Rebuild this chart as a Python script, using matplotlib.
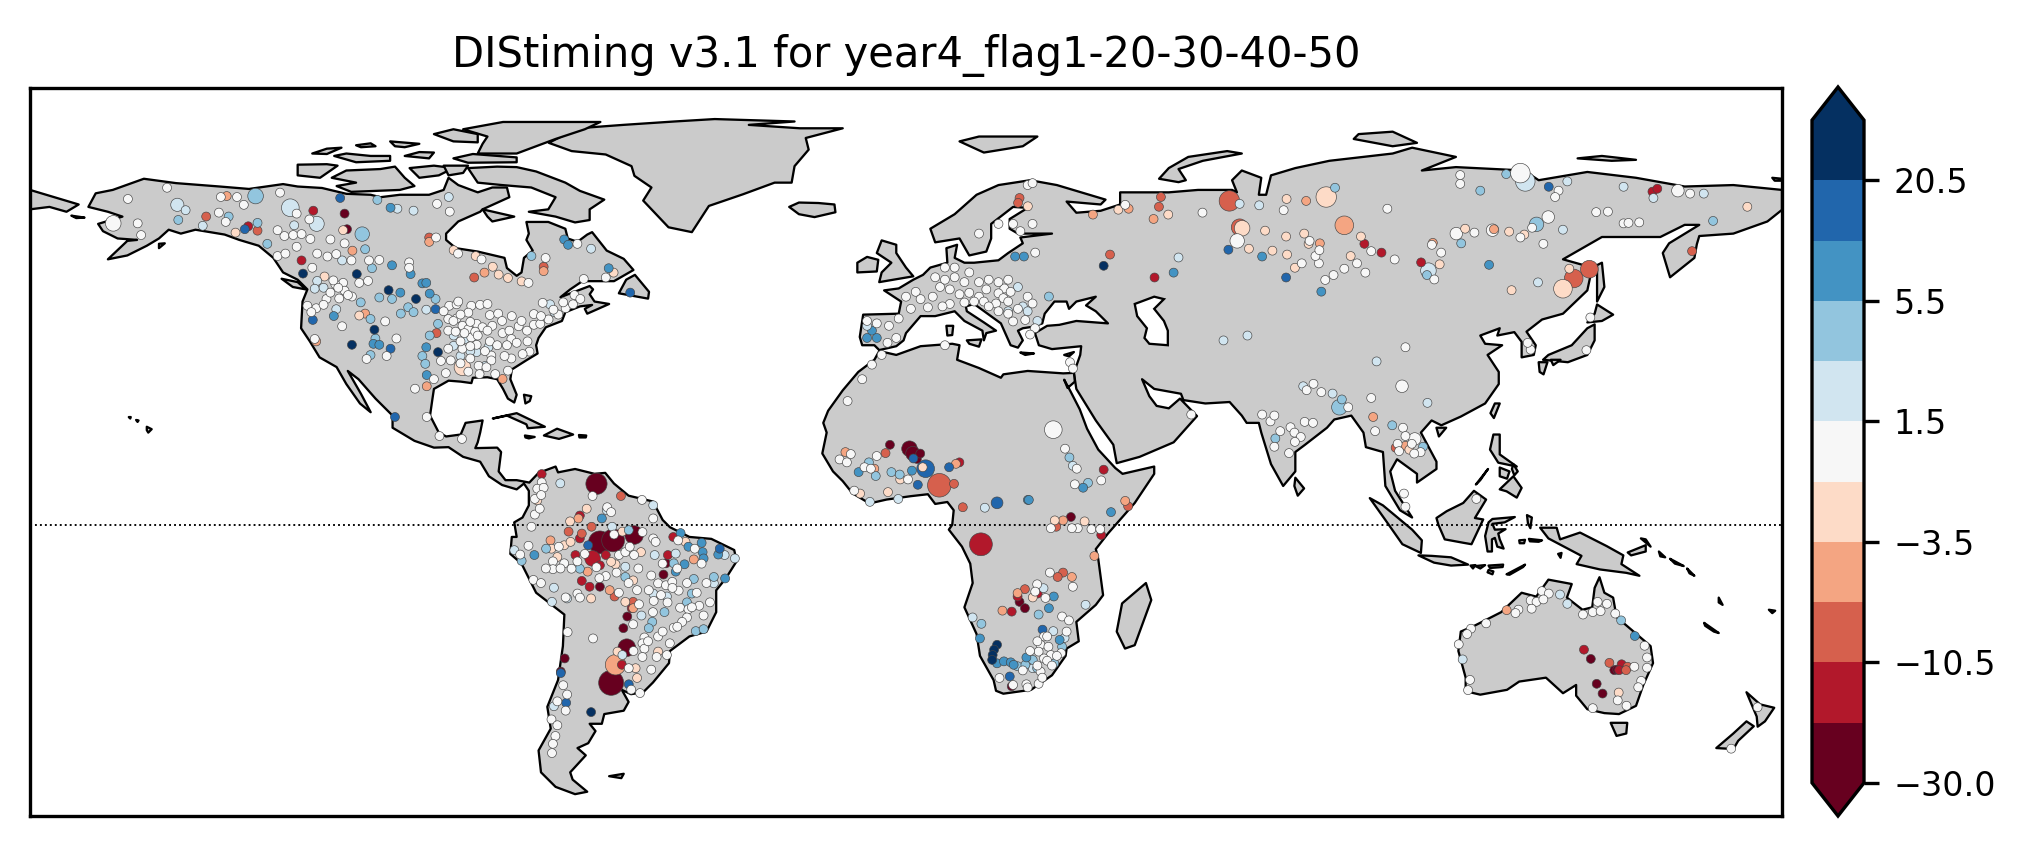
import matplotlib
matplotlib.use("Agg")
import matplotlib.pyplot as plt
from matplotlib.colors import ListedColormap, BoundaryNorm
from matplotlib.cm import ScalarMappable
from matplotlib.patches import Polygon

TITLE = "DIStiming v3.1 for year4_flag1-20-30-40-50"
levels = [-30, -15, -10.5, -6.5, -3.5, -0.5, 1.5, 3.5, 5.5, 10.5, 20.5, 30]
tick_levels = [-30, -10.5, -3.5, 1.5, 5.5, 20.5]
colors = ["#67001f", "#b2182b", "#d6604d", "#f4a582", "#fddbc7", "#f7f7f7",
          "#d1e5f0", "#92c5de", "#4393c3", "#2166ac", "#053061"]
class_vals = [-20, -13, -8, -5, -2, 0.5, 2.5, 4.5, 8, 15, 25]

# ---- coastlines (lon, lat) ----
americas = [(-168,65.5),(-166.5,68.3),(-163,69),(-156.6,71.3),(-150,70.4),(-141,69.7),(-135,69.2),(-128,70.2),(-125,69.7),(-120,69.4),(-115,68.2),(-110,68),(-108,67.5),(-104,68),(-98,68),(-95,69),(-94,71.5),(-92,70),(-88,68.5),(-85,69.5),(-82,69.5),(-81.5,67.5),(-87,65),(-87.5,64.5),(-92,62.5),(-94.5,60),(-94.5,58.7),(-92.5,57),(-88,56.3),(-82.5,55),(-82,52.9),(-80,51.3),(-79,52),(-78.5,55),(-76.7,56.5),(-78,58.7),(-77.5,60),(-78,62.4),(-73.5,62.4),(-70,61),(-69.5,59),(-67.5,58.3),(-65.5,59.8),(-64.5,60.3),(-61.5,56.5),(-58,54.8),(-56,52.5),(-60,50.2),(-66.5,50.2),(-69,48.5),(-71,46.9),(-65,49.2),(-64.3,48.5),(-65,47.5),(-64,46),(-61,45.5),(-65.5,43.5),(-66,44.5),(-64.5,45.3),(-67,45),(-70,43.8),(-70.7,42),(-74,40.7),(-75.5,38.5),(-76,37),(-75.7,35.3),(-78,33.9),(-81,32),(-81.3,30),(-80,26.8),(-80.5,25.2),(-81.8,26),(-82.8,28),(-84,30),(-86,30.4),(-89,30.3),(-89.3,29.2),(-91.5,29.5),(-94,29.7),(-97,28),(-97.3,26),(-97.8,22.5),(-96,19),(-94.5,18.2),(-91.5,18.6),(-90.5,21),(-87,21.5),(-87.5,19),(-88,17),(-88.5,15.8),(-84,15.9),(-83.2,15),(-83.7,11),(-82.3,9.2),(-80,9.2),(-77.4,8.7),(-75.5,10.7),(-72,12),(-71.5,10.8),(-68,11.5),(-64,10.5),(-61.8,10.7),(-60,8.5),(-57,6),(-52,4.8),(-50,1),(-48.5,-0.5),(-44.5,-2.5),(-40,-2.9),(-35.3,-5.2),(-34.8,-7.5),(-37,-11),(-39,-13.5),(-39,-18),(-41,-22),(-44.5,-23),(-48.5,-26),(-48.7,-28.5),(-52,-32.5),(-54,-34.5),(-56.5,-34.9),(-58.4,-34),(-57,-36.5),(-58,-38.3),(-62,-39),(-62.5,-41),(-65,-41),(-63.8,-42.5),(-65.3,-45),(-67.5,-46),(-65.8,-47.5),(-69,-51),(-68.5,-52.5),(-65.5,-55),(-68,-55.5),(-72,-54),(-75,-51),(-75.5,-46.5),(-73,-42),(-73.7,-37.5),(-71.5,-32),(-70.5,-25),(-70.2,-18.5),(-76,-14),(-79,-8),(-81.3,-6),(-81,-2.5),(-80,-2.5),(-80.5,0.5),(-78.8,1.5),(-77.5,4),(-77.5,7),(-78.5,8.5),(-80,7.3),(-83,8.2),(-85.7,10),(-87.5,13),(-91,14),(-94,16),(-97,15.9),(-101,17.3),(-105.5,20),(-105.5,22.5),(-109,26),(-112.5,30),(-114.7,31.7),(-112,27),(-110,23.2),(-112.2,25),(-115,29),(-117,32.5),(-120.5,34.5),(-122.5,37.8),(-124.3,40.5),(-124,46),(-123,48.5),(-125,50.5),(-128,52),(-130,55),(-133,57.5),(-137,58.7),(-140,59.8),(-146,60.8),(-149,60),(-151.5,60.8),(-153.5,59),(-156,57.5),(-160,55.5),(-164,54.7),(-160,58.5),(-158,58.7),(-162,59),(-165,60.5),(-166,62),(-161,63.5),(-164,64.5)]
greenland = [(-73.4,78.7),(-67.5,81.7),(-58.1,82.4),(-47.6,83.1),(-39.3,83.6),(-22.9,83.1),(-32.3,82.4),(-21.8,81.7),(-13,81.7),(-20.6,79.7),(-20,77.3),(-22.9,73.9),(-23.5,70.5),(-27,70.5),(-33.5,68.1),(-40.5,65.7),(-44,60.3),(-48.8,61.3),(-54,66.8),(-52.3,69.5),(-55.8,71.9),(-56.4,73.9),(-61.7,76.3),(-68.7,77)]
eurasia = [(-9,37),(-9.5,38.7),(-8.8,43.3),(-1.5,43.5),(-1,46),(-4.5,48.3),(-1.5,48.7),(1.5,50.5),(3.5,51.5),(5,53),(8.5,54),(8.3,57),(10.5,57.7),(10,55),(12,54),(14,54),(19,54.5),(21,56),(24,58),(23.5,59.2),(30,60),(23,60),(21.3,61),(21.3,63),(25,65.3),(22,65.5),(17.5,62),(17.5,59),(16.5,56.3),(13,55.5),(11,59),(6,58.2),(5,61),(10,64),(14.5,68),(19,70),(25.5,71),(31,70),(41,67),(40,66),(33,66.6),(35,64.3),(40,64.7),(44,66),(44,68.5),(54,68.5),(60,69),(67,69),(68,68.5),(67,71),(69,73),(73,71.5),(72.5,68),(74,68),(75,72),(80,73.5),(87,75),(100,76.5),(104,77.7),(113,75.8),(106,73),(113,73.7),(127,73),(130,71),(140,72.7),(150,71.5),(160,69.7),(170,70),(180,69),(180,64.9),(177,62.5),(170,60),(163,59.5),(162.5,57.8),(162,55),(157,51),(155.5,56),(156.8,58),(163,61.8),(160,61.8),(155,59.3),(143,59.3),(135,54.7),(141,53),(140,48.3),(135,43.5),(130.7,42.3),(127.5,39.8),(129.4,37),(129,35),(126.5,34.5),(126.5,37.7),(125,39.7),(121.5,39),(122,40.5),(118,39),(119,37.3),(122.5,37),(119.5,35),(121.8,31.5),(121.8,29),(119,25),(114,22.3),(110,20.5),(108,21.5),(105.8,19),(109,13),(109,11.5),(105,8.7),(105,10.5),(100.9,13.5),(99.5,11),(100.5,7),(104,1.5),(101.5,3),(98.5,8),(98,15),(94.5,16),(94,19),(91.5,22.5),(88,21.7),(86.5,20),(82,16.5),(80,15),(80,11),(77.5,8),(75,12.5),(73,19),(72.5,21),(70,21),(69,22.5),(66.5,25.3),(61.5,25),(57,25.7),(56.5,27),(51,28),(48.5,30),(50,26.5),(51.5,24.5),(54,24),(56.3,26),(59.8,22.4),(55,17),(48,14),(43.3,12.7),(42.6,16.5),(39,21.5),(35,28),(34.5,31.3),(35.8,35),(36,36.8),(30,36.2),(27.3,37),(26.5,39.5),(29,41),(31.5,41.2),(35,42),(41.5,41.5),(39,44),(37,45.2),(39,47),(35,46),(33.5,44.5),(33,46),(30.5,46),(28.5,43.5),(28,41.5),(26,40.8),(24,40.5),(23,40),(24,38),(23,36.5),(21.5,37),(19.5,41.5),(14,45.5),(12.3,45),(12.5,44),(16,41.7),(18.5,40),(16.5,39.5),(16,38),(15.7,40),(12,42),(10,44),(6,43),(3,43),(0,39.5),(-0.5,38),(-2,36.8),(-5.5,36),(-6.5,37)]
africa = [(34.5,31.3),(32.3,31.2),(25,31.7),(20,31),(19.5,30.3),(15,32.3),(10.5,34),(11,37),(9.5,37.3),(3,36.8),(-2,35),(-5.5,35.8),(-6.5,34),(-9.8,31.5),(-13,27.7),(-16,23.5),(-17,21),(-16.3,19),(-17.2,14.7),(-15,11),(-13,9),(-11,6.5),(-7.5,4.4),(-4,5.2),(1,5.9),(4.5,6.3),(6,4.3),(8.5,4.7),(9.8,3),(9.5,0),(8.8,-1),(11.5,-4.5),(13.2,-8),(13.7,-12),(12,-17),(14.5,-22.5),(15.2,-27),(18,-32),(18.5,-34.2),(20,-34.8),(25.7,-34),(30,-31),(32.8,-27),(33,-25.5),(35.5,-24),(35,-20),(39,-16.5),(40.5,-14.5),(39.5,-7),(39,-5),(41.5,-1.8),(47,4.5),(51,10.5),(51,12),(44.5,10.5),(43,11.7),(39.5,15.5),(37.2,19.8),(35.7,23.8),(33.8,27.5),(32.5,29.9),(33.2,28.2),(34.7,29.5)]
australia = [(114,-22),(113.5,-26),(115,-31.5),(115,-34.3),(118,-35),(123.5,-34),(126,-32.3),(131.5,-31.5),(135,-34.7),(137.7,-33),(137.7,-35.2),(140,-38),(143.5,-38.8),(146.5,-39),(150,-37.3),(151.5,-33),(153.5,-28.5),(153,-25),(149.5,-22),(146,-19),(145.3,-15),(143.5,-14),(142.5,-10.8),(141.5,-13),(141,-17),(139,-17.5),(135.8,-15),(136.8,-12.2),(132,-11.3),(129.5,-14.8),(126.5,-14),(122.3,-18),(117,-20.7)]
islands = [
 [(-180,69),(-175,67.5),(-170,66),(-172.5,64.5),(-176,65.5),(-180,65)],
 # Canadian Arctic
 [(-90,73.5),(-84,73.8),(-80,73.7),(-76,72.8),(-70,70.5),(-67,68.8),(-62,67),(-65,65),(-65,62.8),(-68,62.3),(-72,63.5),(-77.5,64.5),(-73.5,65),(-72,67.5),(-77,69.5),(-83,70),(-88,70.5)],
 [(-118,71.5),(-115,73),(-108,73.3),(-105,73.8),(-103,71.5),(-101,69.8),(-104,69),(-114,68.6),(-117,69.8),(-113,70.5)],
 [(-125,74.2),(-119,74.3),(-116.8,74),(-120.4,71.5),(-125,72)],
 [(-91,81.5),(-82.8,83),(-62.8,83),(-66,81.5),(-72,79.5),(-76,78),(-80,76.5),(-88,76.5),(-87,78.5),(-86,80)],
 [(-97,80.5),(-93,81.5),(-88,80.5),(-88,78.8),(-93,79)],
 [(-93,75.5),(-90,74.6),(-80,74.7),(-80,75.7),(-89,76.4)],
 [(-117.5,76),(-115,76.5),(-110,76),(-106,76),(-106,75),(-113,74.7)],
 [(-122,76.5),(-119,77.5),(-116,77.7),(-119,76.4)],
 [(-113,78.2),(-110,78.6),(-109,78),(-112,77.8)],
 [(-106,79),(-100,78.5),(-103,77.8),(-105,78)],
 [(-103,76),(-98,75.5),(-97,76.7),(-100,76.8)],
 [(-102,73.5),(-97,74),(-93,73.5),(-96,72),(-100,71.5)],
 [(-95,74),(-90,74),(-91,72.5),(-94,72)],
 [(-87,65),(-80.5,63.5),(-85,62.5),(-86,63.5)],
 [(-59,47.7),(-53,46.6),(-52.8,48),(-55.7,51.5),(-57.5,50.5)],
 [(-128.3,50.7),(-125,50),(-123.3,48.5),(-126,49)],
 [(-84.9,21.9),(-80,23),(-74.2,20.2),(-77.7,19.9),(-78,20.7),(-82,22.5)],
 [(-74.4,18.4),(-71.7,19.8),(-68.4,18.6),(-71.3,17.7)],
 [(-78.3,18.4),(-76.3,18.1),(-77.5,17.8),(-78.2,18)],
 [(-67.2,18.5),(-65.7,18.4),(-65.8,18),(-67.1,18)],
 [(-78.5,26.8),(-77,26.5),(-77.3,25.5),(-78.2,25)],
 [(-156,20.2),(-155,19.7),(-155.7,19),(-156,19.5)],
 [(-158.2,21.6),(-157.7,21.5),(-157.9,21.2)],
 [(-159.7,22.2),(-159.3,22.2),(-159.4,21.9)],
 [(-153.5,57.9),(-152.3,58),(-153.5,57)],
 [(-171.5,63.7),(-168.8,63.3),(-170.5,63.2)],
 [(-24,65.5),(-22,64),(-18.8,63.4),(-14.5,64.4),(-14.7,66),(-18,66.3),(-22,66.4)],
 [(11,79),(16,76.7),(24,78),(27,80),(15,80)],
 [(52,71.3),(56,70.6),(57.5,71),(56,73.3),(61,75),(69,76.5),(66,77),(58,75.8),(54,73.5)],
 [(92,79.5),(100,78),(105,78.7),(100,81),(93,80.5)],
 [(138,75.5),(145,75),(150,75.2),(143,76)],
 [(178,71.5),(180,71.3),(180,70.9),(178.5,70.9)],
 [(49.3,-12),(50.4,-15.5),(47,-24.8),(45,-25.5),(43.3,-22),(44.4,-16.2)],
 [(-5.5,50),(1.5,51.2),(0,53),(-2,56),(-2,57.7),(-5,58.6),(-6,56),(-3,54),(-5,52)],
 [(-10,52),(-6,52.2),(-5.7,54.6),(-8,55.2),(-10,54)],
 [(12.5,38),(15.5,38.2),(15,36.7),(13,37.3)],
 [(8.3,41),(9.7,41),(9.5,39.1),(8.5,39)],
 [(23.5,35.5),(26.3,35.3),(24.5,35)],
 [(32.5,35),(34.5,35.6),(33.5,34.7)],
 [(80,9.7),(81.8,7.5),(80.5,6),(79.8,8)],
 [(130.9,34),(136,33.5),(140,35),(141.5,38),(141.5,41.3),(140,40.5),(136.8,37),(132,35)],
 [(130,33.5),(131.8,33.5),(131,31),(130.2,31.5)],
 [(132.5,34),(134.5,34),(133,32.9)],
 [(140,41.7),(143,42),(145.3,43.3),(142,45.4),(141.5,43.5)],
 [(142,46),(143.5,49),(143,54),(142,53.5),(142,48)],
 [(121,25),(122,25),(120.8,22),(120.1,23)],
 [(109,20),(111,20),(109.5,18.2)],
 # Philippines and Indonesia
 [(120.7,18.6),(122,18.6),(122,16),(122,14.5),(125.5,12),(121.7,12.8),(120,15.5)],
 [(122,7.3),(124.8,10),(126.5,7.6),(125.5,5.6),(123.4,6.9)],
 [(122,11.8),(124,11),(123.5,9.5),(122,10)],
 [(124.8,12.5),(125.7,11),(125,10.2),(124.5,11.5)],
 [(117.1,8.3),(119.6,11.5),(119.3,11.1),(118,9.2)],
 [(95.3,5.5),(98,4),(104,-1),(106,-3.2),(105.8,-5.8),(102,-4),(98.5,1)],
 [(105.3,-6.3),(108,-6.4),(112,-6.7),(115.5,-8.2),(112,-8.4),(108.5,-7.8)],
 [(109,1.4),(111.1,2.8),(114.5,4.5),(116.7,7),(119.2,5.2),(116.9,1.4),(118.6,1.1),(116.2,-4),(114.5,-3.7),(110.7,-3),(109.4,0)],
 [(125.1,1.6),(120.5,1.2),(119.7,0.5),(119,-2.3),(119.5,-5.5),(120.4,-5.5),(120.4,-3),(121,-2.7),(121.5,-4.5),(122.8,-4.9),(122,-3),(121.7,-1.8),(123.2,-0.9),(121,-1),(120.5,0.2),(123,0.5)],
 [(127.6,2),(128.6,1.5),(128.3,-0.7),(127.8,0.3)],
 [(126,-3.2),(127.2,-3.1),(127,-3.8),(126.1,-3.8)],
 [(128,-2.9),(130.7,-3.2),(130,-3.5),(128.2,-3.4)],
 [(130.3,-0.6),(133.7,-0.6),(134.4,-3),(138.5,-1.6),(144,-4.4),(147.4,-6.3),(147,-8.1),(150.7,-10.5),(148,-9.9),(142.6,-9.2),(137.8,-8.1),(138.8,-6.4),(133.7,-3.7),(132,-2.8)],
 [(148.3,-5.7),(152,-4.2),(152,-5.5),(149,-6.3)],
 [(152,-3),(153,-4.5),(151,-2.8)],
 [(154.7,-5.5),(156,-6.7),(155,-6.5)],
 [(157,-7),(159.8,-8.5),(158,-8)],
 [(160.5,-9),(162,-10.5),(161,-10)],
 [(134,-6),(134.7,-5.8),(134.5,-6.8)],
 [(116,-8.4),(117,-8.3),(116.5,-9)],
 [(117,-8.5),(119,-8.3),(118,-9)],
 [(119.7,-9.3),(120.7,-9.6),(120.5,-10.2),(119.5,-9.8)],
 [(119.7,-8.4),(122.7,-8.2),(122.6,-8.7),(120,-8.9)],
 [(123.4,-10.2),(127.2,-8.2),(126.8,-8.7),(124,-10.3)],
 [(144.8,-40.8),(148.2,-40.8),(148,-43),(146,-43.5)],
 [(172.7,-34.5),(175.5,-37),(178.4,-37.7),(176.5,-40.5),(175,-41.6),(174.8,-39.5)],
 [(172.7,-40.5),(174.2,-41.5),(171,-44.5),(170,-46.2),(166.5,-46),(170,-43)],
 [(164,-20.2),(167,-22.3),(166,-22),(164.2,-20.8)],
 [(167,-15),(167.8,-16.5),(167,-16)],
 [(177.3,-17.5),(178.6,-17.7),(178,-18.2)],
 [(-61,-51.8),(-58,-51.3),(-58.5,-52.2)],
]
caspian = [(47,45.5),(51,47),(53,46.5),(51,44.5),(53,42),(53.8,40),(53.8,37),(50,37.3),(49,38.5),(49.5,40.5),(47.5,43)]

# ---- stations, by colour class (lon, lat) ----
pts_dark = [(-115.7,64.2),(-115.2,61),(-70.7,-27),(-71.5,-29.7),(-58.7,-20.8),(-57.9,-18.4),(-50.5,-9.8),(-50,-7.5),(-63.5,-12.3),(-4.2,16.8),(1.3,13.9),(2,15),(32.8,2),(22.3,-15.4),(23.4,-16.7),(20.7,-32.7),(139.1,-27.1),(143.9,-29.4),(140.3,-32.2),(141.5,-34.2),(144.5,-29.3)]
pts_red = [(-122.1,64.8),(-124.5,54.6),(-135.4,61.6),(-67.6,2.3),(-67.6,-2.4),(-62.3,-5.8),(-68.5,-5.8),(-75.4,10.8),(-59,-28.3),(-48.5,-2.1),(-57,-16.7),(-49.6,-5.8),(-63.5,-7.9),(-67.2,-11.1),(-65.6,-12.3),(151.7,68.7),(152.7,69.3),(92.8,58),(96.3,56.2),(104.4,54.2),(49.9,51.1),(39.5,11.7),(10,13.2),(39,-1.7),(21.9,-14.3),(26,-13.7),(20.7,-17.4),(137.7,-25.2),(145.4,-28.2),(144.9,-29.4)]
pts_salmon = [(-144,63.6),(-133.5,60.7),(-96.9,39.7),(-89.2,51.1),(-75,53.3),(-98.4,59.3),(-59.2,6.3),(-69.9,-1),(-65.2,0),(-67.2,-1.4),(-60.5,-14.3),(-56.7,-15.4),(51.2,67.6),(50.8,65.6),(40.8,55.8),(22.3,67.4),(22,66.4),(159.8,56.5),(8.9,8.8),(10.7,4),(29.8,0),(44.5,4.2),(-5.1,15.1),(31.2,-9.4),(30.1,-10.3),(23.4,-12.8),(142.9,-27.9),(146.6,-28.7),(146.3,-29.4),(99.2,16.2)]
pts_lsalmon = [(-139.8,67.8),(-114.1,56.6),(-87.1,52.1),(-98.4,58.4),(-111.5,43.7),(-121.5,38),(-83.4,30.3),(-98.9,28.8),(-75,52.4),(-73.6,-2.8),(-67.9,1.7),(-61.5,-13),(-66,-9.2),(-56.7,-16.7),(-44.3,-6.7),(80.9,66.8),(37.3,64),(44.6,65.2),(49.7,63.1),(83.7,58.1),(119.3,61),(94.6,22.5),(101.2,16.6),(31.2,1.3),(43.9,5.3),(37.6,-6),(-13.3,15.3),(-7.4,11.9),(9.3,12.9),(33,-10.3),(21.9,-13.6),(18.8,-17.2),(121.9,-17.1),(106.8,58.2)]
pts_peach = [(-138,60.3),(-116,60.8),(-119.8,51.3),(-93.4,56.7),(-88.9,55.5),(-85.4,53.3),(-84.2,51.7),(-82.3,51),(-79.5,50.3),(-60.7,52.1),(-112.7,43.3),(-66.2,3.7),(-69.6,1.1),(-73.4,-4.5),(-70.8,-3.8),(-72.2,-6.2),(-65.3,-14.7),(-59.9,-25.6),(-58.3,-15.4),(-55.1,-5.2),(-60.3,-7.7),(-61.2,-7.2),(-56.7,-11),(-58.9,-1),(-51.6,-25.6),(-56.2,-29),(-55.9,-31),(-46,-3.1),(-69.5,-3.1),(-76.3,5.4),(76.9,67.2),(42.5,65),(52.7,64),(72.5,60.7),(76.8,59.5),(80.5,60.1),(81.4,58),(69.2,57),(74,56.6),(77,55.8),(78.6,53.1),(90,55.5),(92.1,59.5),(113.4,61.1),(122.4,60.5),(125.5,59.9),(108.2,53.8),(122.9,48.5),(171.1,65.6),(134.7,52.9),(24,65.7),(2.5,12.2),(-2.1,9.7),(-10.3,6.8),(-4.6,7.1),(29.5,1.3),(35.6,1.1),(25,-14.5),(144.8,-34),(102,15.8)]
pts_white = [
 # Alaska, Canada
 (-152,69.5),(-160,67.2),(-158,62.2),(-157.3,59.8),(-141,67.6),(-137.7,67.6),(-136.3,66),(-141.4,64.4),(-140,62.5),(-128.9,68.5),(-125.5,64.2),(-122.9,63),(-122.7,59),(-125.5,57.4),(-118.6,58.9),(-115.7,58.1),(-121.3,56),(-119.2,55.4),(-117.4,55.9),(-114.3,54.6),(-129.4,55.5),(-127.8,56),(-128,59.6),(-129.4,60.8),(-126.2,59.8),(-124.5,60),(-122.3,53.1),(-116,50),(-117.6,49.7),(-114.2,47.2),(-116.8,46.8),(-119.4,46.7),(-121.5,44.8),(-123.3,45.3),(-115.7,48.4),(-118.6,48),(-117,49),(-112.7,50),(-110.9,50.4),(-110.7,54.6),(-108.6,54.7),(-102.5,54.2),(-102.5,53.1),(-97,59.3),(-96.8,66.2),(-94.2,64.6),(-92.5,56),(-87.7,54.8),(-78.1,50),(-74.6,55.1),(-68.1,58),(-66.8,50.8),(-62.3,51.1),(-121.8,38.5),(-122.5,44),(-120,45.5),(-118,50.5),(-115,47.5),
 # United States
 (-94.3,45.3),(-92.8,45.6),(-89.8,45.3),(-88,45.5),(-94.5,42.6),(-92.8,42.7),(-90.4,43.9),(-91.6,41.2),(-88.7,41.6),(-90.4,40.5),(-87.5,40.9),(-86,43.4),(-84.3,43.7),(-83.4,39.7),(-82,40.2),(-80.1,41.1),(-81.6,38.5),(-78.4,40.2),(-77,41.4),(-75.7,41.6),(-78.3,38),(-77,43.6),(-75.2,45.9),(-70.5,44.8),(-69,45.6),(-68.7,47.5),(-67.5,46.7),(-77.9,35.9),(-79.3,35.4),(-81.6,34.5),(-82.3,32),(-85.7,35.1),(-85.7,34.1),(-88.3,33),(-86.7,32.7),(-90.4,31.8),(-88.1,31.3),(-84.9,31.3),(-94.5,36.5),(-91.6,36.5),(-94,34.1),(-96,34),(-89.8,38.8),(-88.7,37.3),(-91.2,39.7),(-94.5,40.2),(-101.3,28.3),(-98.9,22.5),(-96.3,18.6),(-91.7,18),(-116.2,41.1),(-111.2,34.4),(-107.4,42.1),(-105.1,38.6),(-107.1,35),(-92,38),(-90,37),(-93,40),(-89,40),(-86,38),(-87,36),(-83,35),(-74,42.5),(-72,43.5),(-71,46),(-73,44.5),(-90,34.5),(-92,33.5),(-95,31.5),(-90,42),(-92,43.5),
 # South America
 (-65,6.3),(-54.9,5.5),(-76.8,2.5),(-75.4,9.1),(-76.3,7.8),(-76.8,5.7),(-75.8,3.7),(-75,8),(-75.5,6.5),(-62,4),(-61.2,3),(-77.5,0),(-52.6,1.7),(-78.1,-3.9),(-79.8,-5.7),(-73.1,-7.1),(-73.1,-8.7),(-70.8,-7.5),(-69.3,-8.6),(-68.1,-7.1),(-71.9,-4.1),(-64.2,-8.3),(-62.3,-10.1),(-60.1,-9.4),(-59.6,-5.8),(-58.3,-5.2),(-56.5,-5.8),(-57.4,-4.1),(-54.8,-1.1),(-52.6,-2.4),(-52.1,-3.1),(-47.5,-2.8),(-44.1,-4.5),(-77.1,-10.9),(-68.1,-13.7),(-70.5,-14.5),(-55.9,-13),(-51.6,-11.6),(-50,-12),(-53.5,-13),(-52.5,-15.2),(-47.4,-13.1),(-48.7,-11.3),(-55.5,-15.9),(-47.1,-16.6),(-45.4,-16.9),(-43.2,-16.2),(-41,-15.5),(-42.3,-18.2),(-45.7,-18.6),(-48.4,-20.7),(-56.7,-20),(-70.1,-21.6),(-64.9,-22.9),(-51.6,-22.5),(-54.4,-22.7),(-54.8,-23.9),(-54.4,-25),(-49.2,-23.9),(-54.8,-26.7),(-51.9,-26.7),(-49.8,-26.3),(-57.6,-29),(-53,-29.3),(-71,-32.5),(-70.2,-34.4),(-72.2,-35.8),(-70.5,-37.7),(-73.4,-39.5),(-72.2,-40.7),(-72.6,-42.9),(-73.1,-44.5),(-73.3,-46.4),(-57.1,-33.4),(-55.3,-34.1),(-51,-14),(-53,-10),
 # Asia
 (112.4,72.1),(112.4,70.3),(132.5,68.9),(131.8,67.6),(159.4,68.3),(140.2,64.5),(142.6,64.6),(145.8,62.2),(146.8,62.3),(149,62.4),(127.1,61.3),(124.7,59.3),(129.4,58),(115.3,60.3),(106.6,57.8),(108.5,56.2),(107.1,50.7),(97.5,65.2),(99,54.8),(94.2,56.5),(91.3,54),(93,52.1),(88.7,52.9),(86.5,51.6),(84.8,50.6),(83.5,54),(80,54),(82.8,55.5),(83.6,56.7),(81.6,58.6),(76.3,64.9),(59.7,64.4),(43.9,66),(25.5,56.2),(101.2,36.8),(94.2,26.4),(95,19.6),(89.5,24.5),(57.4,23),(126.8,36.3),(126.2,37.7),(138.2,36.2),(139,42.9),(71.9,23),(73.6,21.6),(74.4,22.8),(77.7,20.4),(75.6,19.6),(78.5,19.3),(79.8,18.4),(80.6,21.5),(82.3,21.3),(74.4,16.4),(77.4,15.1),(78.6,17.4),(100.7,20.3),(101.2,18.6),(99.6,17),(99.9,15.5),(104.3,15.3),(100.9,6.8),(101.2,4.1),(115.7,5.7),(82.4,29.3),(84,27.6),(81,28),(102.5,17),(103,15),
 # Africa
 (31.6,16),(34,11.9),(33.6,8.7),(39,9.5),(-12.2,14.9),(-14.5,13.8),(-13,13.2),(-6.9,14.5),(-9.4,12.2),(-8.1,11.9),(-0.5,9.7),(-11.5,7.4),(28.7,-0.3),(34.2,-0.3),(33,-0.3),(37,-0.5),(38.8,-0.5),(28.5,-9.4),(33.2,-12.3),(25.9,-11.8),(25.5,-13.3),(27.6,-14.6),(31,-18.4),(32.4,-19.2),(27.3,-22.5),(26.6,-24.2),(28.2,-24.6),(26.2,-25.6),(28.7,-26.3),(30.8,-25.9),(27.3,-27),(18.2,-31),(23.7,-32.3),(26.2,-32.2),(26.6,-29.7),
 # Australia, New Zealand
 (129.1,-13.2),(130.5,-13.7),(126.8,-15.1),(128,-15.4),(129.4,-14.9),(127,-16.8),(124.3,-17),(123.7,-17.7),(117.7,-19.8),(114.6,-20.9),(113.8,-22),(112.1,-24.1),(114.4,-31.4),(114,-33.5),(137.5,-18),(139.5,-17.5),(140.5,-15.4),(142.4,-15.8),(141.1,-17.3),(144.1,-17.8),(150.1,-24.4),(150.6,-26.8),(150.6,-28.9),(148,-28.7),(149.4,-31.6),(148.8,-32.9),(146.4,-36.7),(144.6,-35.6),(139.5,-37.2),(167.8,-45.5),(173.2,-37),
]
pts_pale = [(-148.2,64.9),(-144.7,61.7),(-126,61.8),(-101.6,64.8),(-104.9,65.2),(-94.4,67.6),(-65.3,57),(-121.3,50.4),(-121.8,48.8),(-120,49),(-116.2,54.6),(-117.4,44.6),(-99,44.5),(-93.4,39.2),(-93.4,37.1),(-86.3,36.8),(-88.7,35.8),(-86.9,33),(-73.7,45.6),(-72.8,44),(-91,38.5),(-90,36),(-92,35),(-71.6,8.9),(-73.3,-15.4),(-72.9,-12.5),(-70.2,-14.7),(-52.6,4.4),(-48,-5.5),(-38,-5.8),(-35.9,-6.5),(-40.2,-11.6),(-55,-18.2),(-52.3,-5.8),(-58.3,-8.2),(-52.6,-13.7),(-49.8,-14.3),(-61,0),(-62.1,3.4),(-58.9,-26.3),(-72.9,-36.8),(-81,-4.8),(67.3,66.2),(71.3,65.9),(134.3,70.8),(145.8,69.7),(151.9,67.4),(162.2,68.3),(133.4,60.9),(128.3,50.1),(54.8,55.2),(64,38.2),(68.9,39.2),(95.3,33.9),(105.7,25.4),(80.3,28.8),(86.3,27.3),(33.2,12.5),(12.7,-18.6),(15.2,3.9),(-8.3,5.1),(-2.5,5.7),(27.2,-12.6),(35.8,-16),(29.2,-21.4),(132.8,-13.9),(134.3,-15.8),(112.9,-27.2),(31.5,-22.8),(25,-29)]
pts_sky = [(-149.7,62.9),(-139.4,63.6),(-133.5,62.3),(-131.5,58),(-109,67),(-111.5,56.9),(-110.1,53),(-112.4,46),(-108.6,47),(-106,46.7),(-102.7,45),(-101.6,44),(-104.2,43.7),(-97.1,46.7),(-110.4,42.6),(-96.6,41.6),(-98.3,39.2),(-99.8,35),(-99.2,33.4),(-109.4,38.6),(-110.4,35.2),(-77.5,55.5),(-48.4,-7.5),(-40.2,-10.3),(-44.3,-10.7),(-44.7,-13.7),(-45.7,-15.5),(-50.3,-17.5),(-52.8,-19.5),(-53.5,-20.8),(-43.9,-21.4),(-42.3,-21),(-58.3,-10.3),(-57.6,-0.7),(-79.5,-7),(-74.5,-4.5),(-67.6,-8.6),(116.5,68.9),(121.8,72.3),(86.8,69.5),(112.6,58.1),(105.6,51.6),(164.1,62.7),(98.5,20.8),(104.8,16.4),(28.3,47.2),(88.2,26.1),(74.6,18.1),(32.5,14.2),(36.3,9),(-8.5,13.2),(-7.1,10.4),(-3.9,11.2),(-2.2,10.7),(14.5,-19.9),(26.2,-18),(21.9,-28.6),(23.5,-28.3),(25.9,-29),(31,-24.6),(25,-27.3),(29.4,-28),(145.3,-19.2)]
pts_mid = [(-106.3,65.4),(-106,53.6),(-102.2,51.8),(-99.8,49.9),(-99,50),(-104.3,48),(-98.3,47.8),(-117.9,43.2),(-109.8,37.5),(-108.6,37.3),(-99,36.8),(-98.9,31.1),(-70.8,58.9),(-70,57.8),(-61.7,53),(-63.1,1.7),(-76.9,-5.8),(-48,-9.2),(-46.2,-7.7),(-47,-1.3),(-42.7,-3.3),(-45.4,-4.1),(-42.5,-5.2),(-42.3,-6.5),(-39.3,-5.7),(-37.9,-10.6),(71.9,55.4),(53.8,52.1),(84,48.2),(118.3,53.7),(21.4,55.4),(23.2,55.4),(35.3,8),(24,5.5),(41,3),(0.3,11.5),(-10.6,11.2),(24.2,5.5),(28.3,-16.7),(29.3,-14.3),(14.2,-22.9),(17.7,-28),(19.1,-27.6),(20.5,-27.8),(21.1,-28.3),(23.7,-26.8),(30.5,-23.2),(148.1,-22.4)]
pts_blue = [(-116.6,67.4),(-136.1,61),(-122.2,42.4),(-97.1,44.6),(-106.3,36.5),(-57.3,48),(-105.4,22.5),(-65.9,-3.8),(-39,-4.5),(-57.6,-32.3),(-70.4,-36.1),(-71.5,-30),(65,56.8),(76.8,51.1),(130.5,69.7),(0.6,14),(7.9,12.2),(1.5,8.6),(27,-21.1),(20.3,-30.7)]
pts_navy = [(-124.2,51.9),(-113.2,51.8),(-106.7,48.5),(-101.1,46.7),(-109.6,40.4),(-114.2,37.3),(-96.6,35.8),(-65.3,-38),(17.7,-24.2),(17.1,-25.2),(16.8,-26.3),(16.7,-27.3),(39.5,53.5)]

# stations read directly on the lon/lat grid
grid_white = [(20.2,48.7),(21.5,48),(19,47.7),(20,46.7),(21,46),(18.5,45.6),(22,41.9),(25,47),(26,45.6),(24.5,42.2),(26.5,40.5),(25.5,39.2),(25,70),(26,70.4),(33.7,33.5),(34.3,32.2),(-8,42),(-6,41.5),(-3.5,41),(-1.5,42.5),(-2,38.5),(-3.8,37.5),(0,47),(2,48),(3,46.5),(1,44.5),(4.5,44.8),(5.5,47),(7,49),(8,50.5),(6,51),(10,51),(12,50),(9,48.5),(11,47.5),(13,47.8),(15,47),(16.5,48.5),(15,50),(17,50.5),(19,50),(21,50.5),(14,46),(12,45.8),(9,45.5),(7.5,45),(13,52),(10,53),(8,53),(16,46),(17,45),(19,44),(21,43.5),(23,44.5),(19,62),(15,60),(22,62),(26,62),(23.5,60.5),(8,37),(-5,35),(-7,33),(-9,30),(-12,25.5),
 (-50,-8),(-47,-9),(-45,-12),(-43,-14),(-49,-16),(-52,-18),(-46,-20),(-50,-22),(-53,-24),(-57,-12),(-59,-14),(-63,-11),(-66,-6),(-71,-9),(-74,-9),(-75,-12),(-42,-8),(-41,-12),(-44,-17),(-47,-21),(-55,-9),(-60,-2),(-67,-15),(-56,-26),(-48,-13),
 (-85,41),(-83,42),(-81,43),(-79,42),(-75,43),(-84,37),(-82,37),(-80,37.5),(-86,40),(-88,39),(-93,42),(-95,44),(-92,46),(-86,45.5),(-97,30),
 (29,-23),(27,-24),(25.5,-26),(29,-28),(30,-29),(27,-29),(24,-30),(22,-33),(25,-33.5),(28,-31.5),(31,-27),(33,-22)]
grid_pale = [(-8,41),(21,44),(24,45),(27,42),(23,49),(25,44)]
grid_mid = [(-7,40),(-8,38.5),(-6,38.5)]

# larger stations
big_lon = [-64.2,-63.5,-60.8,-56.5,-58,-61.2,-0.2,0.5,-65,14.4,5.9,65.2,135.6,138.8,67.3,-60.3,88.7,85,133.4,67.8,125.7,124.7,-163,-126.8,-121.4,-91.6,-133.9,-112.1,-149.9,128,105.9,66.8,156.9,130.4,111.6,119,87.7,3.1,17.7,103.1,100.5,29.2]
big_lat = [8.8,-3.2,-2.8,-1.7,-24.8,-32,16,15,-6.5,-3.6,8.5,66.8,50.9,52.8,61.4,-28.3,61.8,67.6,48.8,61.2,70.8,72.5,62.2,65.4,62.1,32.7,67.8,60,66,62,52.5,58.6,68.9,63.5,60.1,60.8,24.5,11.9,4.9,18,28.8,19.9]
big_val = [-20,-20,-20,-20,-20,-20,-20,-20,-13,-13,-8,-8,-8,-8,-8,-5,-5,-2,-2,-2,2.5,0.5,0.5,2.5,2.5,-2,4.5,4.5,2.5,4.5,2.5,0.5,0.5,0.5,0.5,0.5,4.5,15,15,0.5,0.5,0.5]
big_size = [26,30,30,20,18,36,14,12,14,30,32,24,20,18,16,24,20,24,20,14,22,22,14,18,13,16,14,12,10,12,14,12,9,9,9,9,14,18,8,9,9,18]

lon_lim = (-180, 180)
lat_lim = (-60, 90)

cmap = ListedColormap(colors)
cmap.set_under(colors[0]); cmap.set_over(colors[-1])
norm = BoundaryNorm(levels, cmap.N)

def to_map_lon(v):
    return v * 1.005 + 0.92

def to_map_lat(v):
    return v * 1.005 - 0.4

W, H = 2025, 847
fig = plt.figure(figsize=(W/300, H/300), dpi=300)
ax = fig.add_axes([30/W, 1-816/H, (1782-30)/W, (816-88)/H])
for poly in [americas, greenland, eurasia, africa, australia] + islands:
    ax.add_patch(Polygon(poly, closed=True, fc="#cbcbcb", ec="black", lw=0.55, zorder=1, joinstyle="round"))
ax.add_patch(Polygon(caspian, closed=True, fc="white", ec="black", lw=0.55, zorder=1.1))

ax.plot(lon_lim, [0, 0], color="black", lw=0.45, ls=":", zorder=1.5)

ax.scatter([to_map_lon(v) for v in big_lon], [to_map_lat(v) for v in big_lat], c=big_val, s=big_size,
           cmap=cmap, norm=norm, edgecolors="#444444", linewidths=0.15, zorder=2)
groups = [pts_dark, pts_red, pts_salmon, pts_lsalmon, pts_peach, pts_pale, pts_sky, pts_mid, pts_blue, pts_navy, pts_white]
group_vals = [class_vals[i] for i in (0, 1, 2, 3, 4, 6, 7, 8, 9, 10, 5)]
for pts, v in zip(groups, group_vals):
    xs = [to_map_lon(p[0]) for p in pts]
    ys = [to_map_lat(p[1]) for p in pts]
    ax.scatter(xs, ys, c=[v]*len(pts), s=4.6, cmap=cmap, norm=norm,
               edgecolors="#444444", linewidths=0.15, zorder=3)
for pts, v in [(grid_mid, class_vals[8]), (grid_pale, class_vals[6]), (grid_white, class_vals[5])]:
    ax.scatter([p[0] for p in pts], [p[1] for p in pts], c=[v]*len(pts), s=4.6, cmap=cmap, norm=norm,
               edgecolors="#444444", linewidths=0.15, zorder=3)

ax.set_xlim(*lon_lim)
ax.set_ylim(*lat_lim)
ax.set_xticks([]); ax.set_yticks([])
for s in ax.spines.values():
    s.set_linewidth(0.8)
ax.set_title(TITLE, fontsize=10, pad=5)

cax = fig.add_axes([1812/W, 1-816/H, (1864-1812)/W, (816-87)/H])
cb = fig.colorbar(ScalarMappable(norm=norm, cmap=cmap), cax=cax, extend="both",
                  ticks=tick_levels, spacing="uniform", extendfrac=0.05)
cb.ax.minorticks_off()
cb.ax.tick_params(labelsize=8, length=3.5, width=0.8)
cb.outline.set_linewidth(0.8)
fig.savefig("out.png", dpi=300)
